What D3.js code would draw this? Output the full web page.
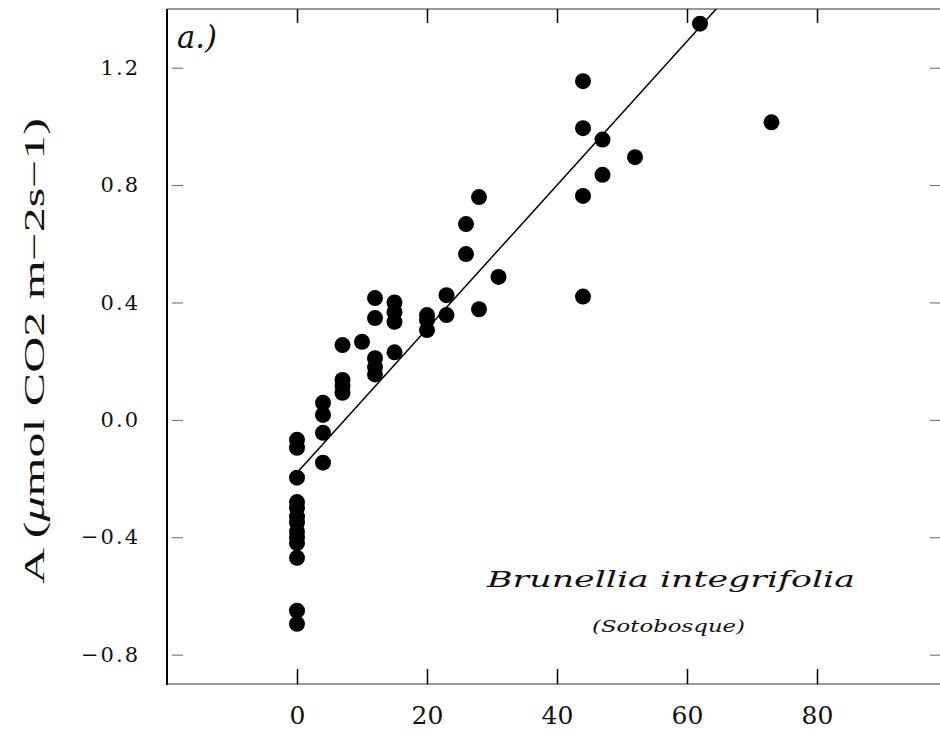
<!DOCTYPE html>
<html><head><meta charset="utf-8">
<script src="https://cdn.jsdelivr.net/npm/d3@7"></script>
<style>body{margin:0;background:#fff}svg{display:block}</style>
</head><body>
<svg id="c" width="940" height="731"></svg>
<script>
// data: irradiance (x) vs assimilation A (y)
const xVals = [0,0,0,0,0,0,0,0,0,0,0,0,0,
  4,4,4,4,
  7,7,7,7,
  10,
  12,12,12,12,12,
  15,15,15,15,
  20,20,20,
  23,23,
  26,26,28,28,31,
  44,44,47,52,47,44,44,
  62,73];
const yVals = [-0.068,-0.095,-0.197,-0.28,-0.30,-0.33,-0.35,-0.38,-0.40,-0.42,-0.47,-0.65,-0.695,
  0.058,0.017,-0.044,-0.146,
  0.255,0.136,0.116,0.092,
  0.266,
  0.415,0.347,0.21,0.18,0.155,
  0.40,0.367,0.334,0.23,
  0.357,0.34,0.306,
  0.425,0.357,
  0.667,0.565,0.759,0.377,0.487,
  1.154,0.994,0.955,0.895,0.835,0.763,0.42,
  1.35,1.014];
const fitLine = {intercept:-0.18, slope:0.0245};
const xTicks = [0,20,40,60,80];
const yTicks = [-0.8,-0.4,0.0,0.4,0.8,1.2];
const xDomain = [-20,100];
const yDomain = [-0.9,1.4];

const svg = d3.select("#c");
const x = d3.scaleLinear().domain(xDomain).range([167,947]);
const y = d3.scaleLinear().domain(yDomain).range([684,9]);
const serif = "'DejaVu Serif', serif";

svg.append("clipPath").attr("id","clip").append("rect")
  .attr("x",167).attr("y",9).attr("width",780).attr("height",675);

svg.append("line").attr("x1",167).attr("x2",940).attr("y1",9).attr("y2",9)
  .attr("stroke","#333").attr("stroke-width",1.2);
svg.append("line").attr("x1",167).attr("x2",940).attr("y1",684).attr("y2",684)
  .attr("stroke","#333").attr("stroke-width",1.2);

const xAxisB = d3.axisBottom(x).tickValues(xTicks).tickSize(-15).tickPadding(22)
  .tickFormat(d3.format("d"));
const gxb = svg.append("g").attr("transform","translate(0,684)").call(xAxisB);
gxb.select(".domain").remove();
gxb.selectAll(".tick line").attr("stroke","#000").attr("stroke-width",1.5);
gxb.selectAll(".tick text").attr("font-family",serif).attr("font-size",25).attr("fill","#111")
  .attr("dy","0.35em").attr("y",31);

const xAxisT = d3.axisTop(x).tickValues(xTicks).tickSize(-14).tickFormat("");
const gxt = svg.append("g").attr("transform","translate(0,9)").call(xAxisT);
gxt.select(".domain").remove();
gxt.selectAll(".tick line").attr("stroke","#000").attr("stroke-width",1.5);

const yAxisL = d3.axisLeft(y).tickValues(yTicks).tickSize(0).tickPadding(27)
  .tickFormat(d => d3.format(".1f")(d).replace("-","\u2212"));
const gyl = svg.append("g").attr("transform","translate(167,0)").call(yAxisL);
gyl.select(".domain").remove();
gyl.selectAll(".tick text").attr("font-family",serif).attr("font-size",21).attr("fill","#111")
  .attr("letter-spacing","2px");
gyl.selectAll(".tick").append("line").attr("x1",5).attr("x2",16).attr("stroke","#666").attr("stroke-width",1);

const gyr = svg.append("g").call(d3.axisRight(y).tickValues(yTicks).tickSize(0).tickFormat(""))
  .attr("transform","translate(940,0)");
gyr.select(".domain").remove();
gyr.selectAll(".tick").append("line").attr("x1",-10).attr("x2",0).attr("stroke","#666").attr("stroke-width",1);

svg.append("line").attr("x1",167).attr("x2",167).attr("y1",9).attr("y2",685)
  .attr("stroke","#000").attr("stroke-width",2);

const x0 = 0, x1 = (yDomain[1]-fitLine.intercept)/fitLine.slope;
svg.append("line").attr("clip-path","url(#clip)")
  .attr("x1",x(x0)).attr("y1",y(fitLine.intercept+fitLine.slope*x0))
  .attr("x2",x(x1)).attr("y2",y(fitLine.intercept+fitLine.slope*x1))
  .attr("stroke","#000").attr("stroke-width",1.5);

svg.append("g").selectAll("circle").data(xVals.map((v,i)=>[v,yVals[i]])).join("circle")
  .attr("cx",d=>x(d[0])).attr("cy",d=>y(d[1])).attr("r",8).attr("fill","#000");

svg.append("text").attr("transform","translate(44,351) rotate(-90)")
  .attr("text-anchor","middle").attr("font-family","'Liberation Serif', serif").attr("font-size",30).attr("fill","#111")
  .attr("textLength",466).attr("lengthAdjust","spacingAndGlyphs")
  .html("A (<tspan font-style='italic'>\u03bc</tspan>mol CO2 m\u22122s\u22121)");

svg.append("text").attr("x",177).attr("y",48).attr("font-family",serif).attr("font-style","italic")
  .attr("font-size",32).attr("fill","#111").attr("textLength",40).attr("lengthAdjust","spacingAndGlyphs").text("a.)");

svg.append("text").attr("x",487).attr("y",587).attr("font-family",serif).attr("font-style","italic")
  .attr("font-size",23).attr("fill","#111").attr("textLength",368).attr("lengthAdjust","spacingAndGlyphs")
  .text("Brunellia integrifolia");
svg.append("text").attr("x",592).attr("y",632).attr("font-family",serif).attr("font-style","italic")
  .attr("font-size",17).attr("fill","#111").attr("textLength",153).attr("lengthAdjust","spacingAndGlyphs")
  .text("(Sotobosque)");
</script>
</body></html>
